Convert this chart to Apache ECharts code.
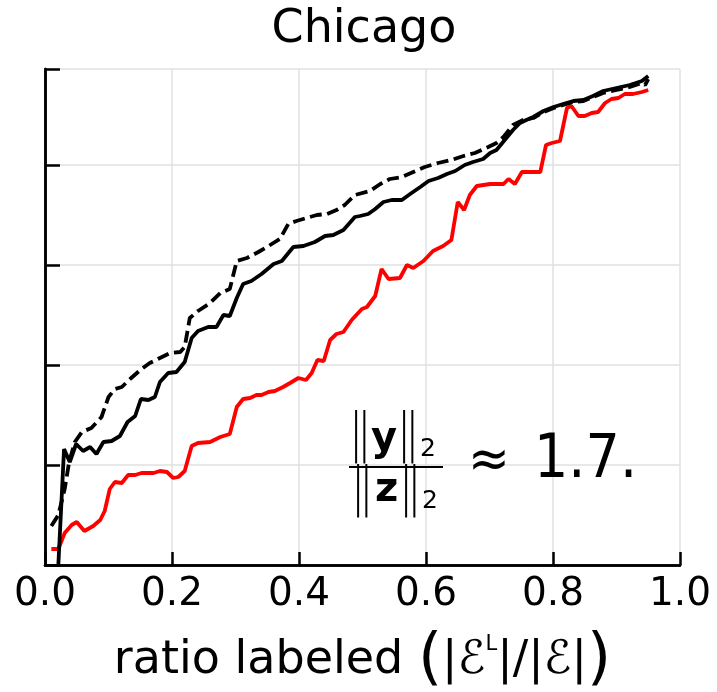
<!DOCTYPE html>
<html>
<head>
<meta charset="utf-8">
<script src="https://cdn.jsdelivr.net/npm/echarts@6/dist/echarts.min.js"></script>
<style>
  html, body { margin: 0; padding: 0; background: #fff; }
  #main { width: 717px; height: 692px; }
</style>
</head>
<body>
<div id="main"></div>
<script>
// data
var redX = [0.010,0.021,0.031,0.042,0.050,0.062,0.076,0.087,0.094,0.102,0.110,0.121,0.131,0.142,0.152,0.171,0.181,0.192,0.202,0.210,0.220,0.231,0.241,0.260,0.276,0.291,0.302,0.312,0.323,0.333,0.341,0.352,0.362,0.375,0.386,0.399,0.411,0.420,0.429,0.439,0.449,0.459,0.470,0.483,0.499,0.507,0.520,0.530,0.541,0.559,0.570,0.580,0.596,0.611,0.627,0.640,0.650,0.660,0.669,0.680,0.701,0.722,0.730,0.740,0.751,0.780,0.789,0.798,0.811,0.822,0.829,0.840,0.850,0.861,0.871,0.882,0.892,0.903,0.913,0.926,0.940,0.950];
var redY = [0.16,0.16,0.32,0.40,0.43,0.34,0.39,0.45,0.54,0.76,0.83,0.82,0.90,0.90,0.92,0.92,0.94,0.93,0.87,0.88,0.94,1.19,1.22,1.23,1.28,1.31,1.58,1.66,1.67,1.70,1.70,1.73,1.74,1.78,1.82,1.87,1.85,1.92,2.05,2.04,2.25,2.31,2.33,2.45,2.56,2.58,2.69,2.96,2.86,2.87,3.00,2.97,3.04,3.14,3.19,3.25,3.63,3.55,3.70,3.79,3.81,3.81,3.86,3.81,3.93,3.93,4.20,4.22,4.24,4.57,4.59,4.49,4.49,4.52,4.53,4.62,4.66,4.67,4.71,4.71,4.73,4.75];

var solidX = [0.021,0.030,0.039,0.049,0.060,0.071,0.081,0.092,0.105,0.118,0.130,0.142,0.151,0.163,0.173,0.181,0.194,0.207,0.220,0.231,0.241,0.257,0.270,0.281,0.291,0.302,0.312,0.325,0.341,0.360,0.373,0.391,0.407,0.425,0.441,0.454,0.470,0.488,0.496,0.509,0.520,0.533,0.546,0.562,0.575,0.591,0.604,0.619,0.633,0.646,0.661,0.674,0.690,0.701,0.711,0.724,0.737,0.748,0.758,0.769,0.785,0.801,0.816,0.832,0.848,0.863,0.879,0.900,0.921,0.940,0.950];
var solidY = [0.00,1.16,1.03,1.21,1.14,1.18,1.11,1.23,1.24,1.29,1.43,1.49,1.66,1.65,1.68,1.83,1.92,1.93,2.03,2.27,2.34,2.38,2.38,2.50,2.49,2.67,2.81,2.84,2.91,3.01,3.04,3.18,3.19,3.23,3.29,3.30,3.35,3.48,3.49,3.51,3.56,3.63,3.65,3.65,3.71,3.78,3.84,3.87,3.91,3.94,4.00,4.03,4.06,4.12,4.15,4.25,4.35,4.42,4.45,4.48,4.54,4.58,4.61,4.64,4.65,4.69,4.74,4.77,4.80,4.84,4.89];

var dashX = [0.010,0.021,0.031,0.038,0.047,0.058,0.073,0.089,0.100,0.110,0.121,0.134,0.150,0.165,0.181,0.197,0.213,0.220,0.228,0.241,0.260,0.276,0.291,0.302,0.318,0.336,0.352,0.370,0.383,0.396,0.412,0.428,0.444,0.459,0.472,0.488,0.512,0.528,0.543,0.562,0.580,0.598,0.619,0.640,0.659,0.677,0.698,0.711,0.722,0.737,0.753,0.769,0.785,0.801,0.816,0.832,0.848,0.863,0.879,0.900,0.921,0.940,0.945,0.950];
var dashY = [0.39,0.50,0.76,1.03,1.23,1.33,1.37,1.48,1.68,1.76,1.78,1.86,1.95,2.02,2.07,2.12,2.13,2.18,2.47,2.54,2.62,2.72,2.76,3.04,3.07,3.13,3.19,3.26,3.41,3.44,3.47,3.50,3.51,3.55,3.60,3.70,3.74,3.81,3.86,3.88,3.93,3.98,4.02,4.05,4.09,4.12,4.18,4.22,4.28,4.40,4.45,4.47,4.53,4.57,4.60,4.63,4.64,4.68,4.72,4.75,4.78,4.82,4.80,4.86];

function pairs(xs, ys) {
  return xs.map(function (x, i) { return [x, ys[i]]; });
}

var FONT = 'DejaVu Sans';
var chart = echarts.init(document.getElementById('main'), null, { renderer: 'canvas' });

var frameLine = { show: true, lineStyle: { color: '#000', width: 2.5 } };
var gridLine = { show: true, lineStyle: { color: '#e0e0e0', width: 1.5 } };

// thin, tall double bar of a norm
function bars(x, y) {
  return {
    type: 'text', x: x, y: y, z: 10, scaleX: 0.58, scaleY: 1.25,
    style: { text: '||', font: '42px "DejaVu Sans"', fill: '#000', align: 'left', verticalAlign: 'middle' }
  };
}
function word(txt, x, y, font) {
  return {
    type: 'text', x: x, y: y, z: 10,
    style: { text: txt, font: font, fill: '#000', align: 'left', verticalAlign: 'middle' }
  };
}

chart.setOption({
  animation: false,
  backgroundColor: '#fff',
  title: {
    text: 'Chicago',
    left: 359,
    textAlign: 'center',
    top: 2,
    textStyle: { fontFamily: FONT, fontSize: 46, fontWeight: 'normal', color: '#000' }
  },
  grid: { left: 45, right: 37, top: 69, bottom: 127, outerBoundsMode: 'none' },
  xAxis: [{
    type: 'value',
    min: 0, max: 1, interval: 0.2,
    name: '{t|ratio labeled }{p|(}{t||ℰ}{u|L}{t||/|ℰ|}{p|)}',
    nameLocation: 'middle',
    nameGap: 65,
    nameTextStyle: {
      rich: {
        t: { fontFamily: FONT, fontSize: 46, color: '#000' },
        p: { fontFamily: FONT, fontSize: 62, color: '#000' },
        u: { fontFamily: FONT, fontSize: 21, color: '#000', verticalAlign: 'top', padding: [4, 0, 0, 0] }
      }
    },
    axisLine: frameLine,
    axisTick: { show: true, inside: true, length: 13, lineStyle: { color: '#000', width: 2.5 } },
    axisLabel: {
      margin: 10,
      fontFamily: FONT, fontSize: 39, color: '#000',
      formatter: function (v) { return v.toFixed(1); }
    },
    splitLine: gridLine
  }, {
    type: 'value', position: 'top',
    min: 0, max: 1, interval: 0.2,
    axisLine: frameLine, axisTick: { show: false }, axisLabel: { show: false }, splitLine: { show: false }
  }],
  yAxis: [{
    type: 'value',
    min: 0, max: 4.96, interval: 1,
    axisLine: frameLine,
    axisTick: { show: true, inside: true, length: 15, lineStyle: { color: '#000', width: 2.5 } },
    axisLabel: { show: false },
    splitLine: gridLine
  }, {
    type: 'value', position: 'right',
    min: 0, max: 4.96, interval: 1,
    axisLine: frameLine, axisTick: { show: false }, axisLabel: { show: false }, splitLine: { show: false }
  }],
  series: [
    {
      name: 'red', type: 'line', showSymbol: false, z: 2,
      data: pairs(redX, redY),
      lineStyle: { color: '#ff0000', width: 3.8 }
    },
    {
      name: 'dashed', type: 'line', showSymbol: false, z: 3,
      data: pairs(dashX, dashY),
      lineStyle: { color: '#000', width: 3.8, type: [12, 5.5] }
    },
    {
      name: 'solid', type: 'line', showSymbol: false, z: 4,
      data: pairs(solidX, solidY),
      lineStyle: { color: '#000', width: 3.8 }
    }
  ],
  graphic: [
    // numerator ||y||_2
    bars(352, 437),
    word('y', 371, 440, 'bold 40px "DejaVu Sans"'),
    bars(400, 437),
    word('2', 420, 449, '25px "DejaVu Sans"'),
    // fraction rule
    { type: 'line', z: 10, shape: { x1: 349, y1: 467, x2: 443, y2: 467 }, style: { stroke: '#000', lineWidth: 2 } },
    // denominator ||z||_2
    bars(354, 491),
    word('z', 375, 491, 'bold 40px "DejaVu Sans"'),
    bars(402, 491),
    word('2', 422, 501, '25px "DejaVu Sans"'),
    { type: 'text', x: 468, y: 463, z: 10, scaleY: 1.1,
      style: { text: '≈', font: '50px "DejaVu Sans"', fill: '#000', align: 'left', verticalAlign: 'middle' } },
    { type: 'text', x: 534, y: 461, z: 10, scaleY: 1.12,
      style: { text: '1.7.', font: '54px "DejaVu Sans"', fill: '#000', align: 'left', verticalAlign: 'middle' } }
  ]
});
</script>
</body>
</html>
